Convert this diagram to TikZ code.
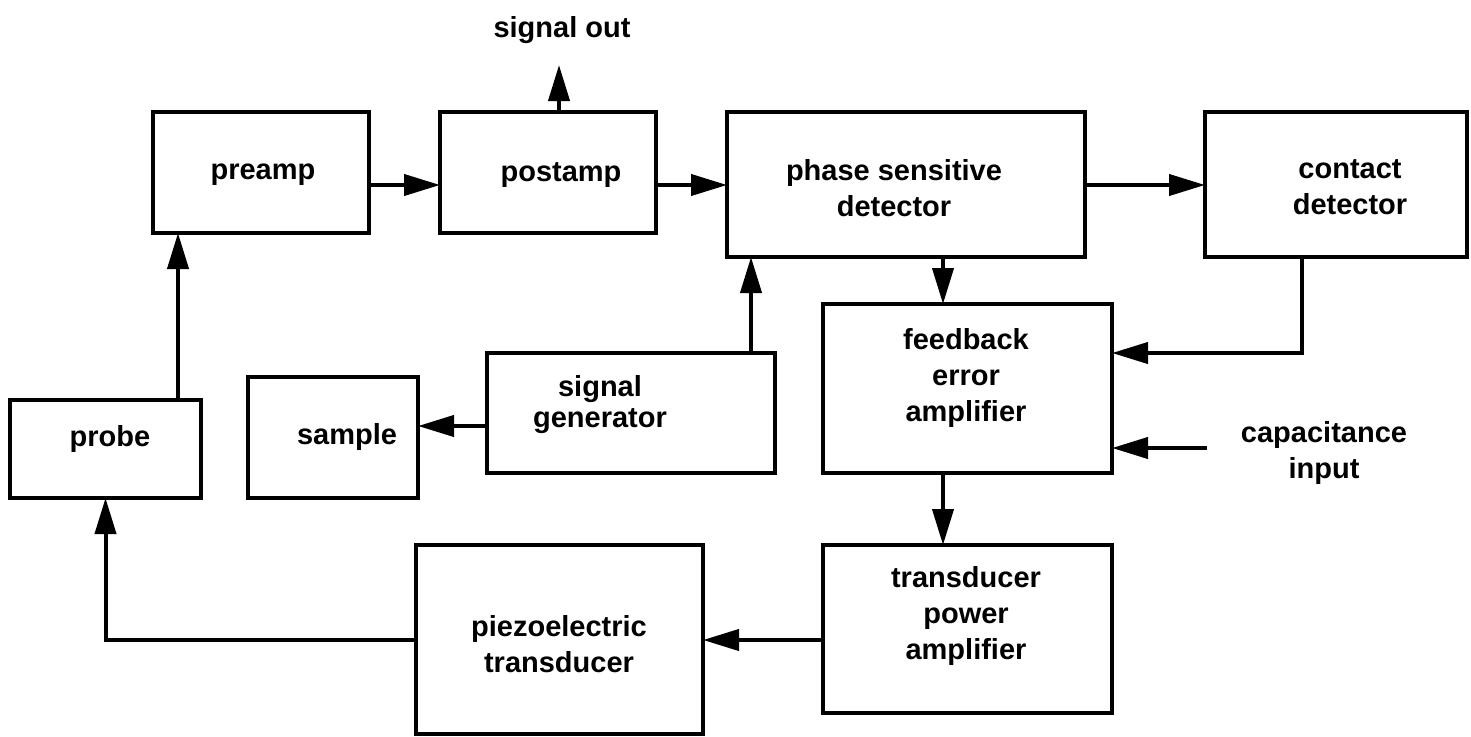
\documentclass[tikz,border=0pt]{standalone}
\usepackage{fontspec}
\setmainfont{Liberation Sans}
\usetikzlibrary{arrows.meta}
\begin{document}
\begin{tikzpicture}[x=1pt,y=-1pt,
  box/.style={draw, line width=4pt, inner sep=0pt, outer sep=0pt, anchor=north west},
  txt/.style={inner sep=0pt, outer sep=0pt, align=center, font=\fontsize{29}{36}\selectfont\bfseries},
  arr/.style={line width=4pt, -{Triangle[length=36pt,width=21pt]}}]
\useasboundingbox (0,0) rectangle (1471,736);

% blocks
\node[box, minimum width=216pt, minimum height=121pt] (preamp)   at (153,112) {};
\node[box, minimum width=216pt, minimum height=121pt] (postamp)  at (440,112) {};
\node[box, minimum width=358pt, minimum height=145pt] (psd)      at (727,112) {};
\node[box, minimum width=262pt, minimum height=145pt] (contact)  at (1205,112) {};
\node[box, minimum width=289pt, minimum height=169pt] (feedback) at (823,304) {};
\node[box, minimum width=288pt, minimum height=120pt] (siggen)   at (487,353) {};
\node[box, minimum width=170pt, minimum height=121pt] (sample)   at (248,377) {};
\node[box, minimum width=191pt, minimum height=98pt]  (probe)    at (10,400) {};
\node[box, minimum width=287pt, minimum height=189pt] (piezo)    at (416,545) {};
\node[box, minimum width=289pt, minimum height=168pt] (tpa)      at (823,545) {};

% block labels
\node[txt] (preamp-t)   at (263,175) {preamp};
\node[txt] (postamp-t)  at (561,175) {postamp};
\node[txt] (psd-t)      at (894,188) {phase sensitive\\detector};
\node[txt] (contact-t)  at (1350,187) {contact\\detector};
\node[txt] (feedback-t) at (966,378) {feedback\\error\\amplifier};
\node[txt, font=\fontsize{29}{31}\selectfont\bfseries] (siggen-t) at (600,405) {signal\\generator};
\node[txt] (sample-t)   at (347,437) {sample};
\node[txt] (probe-t)    at (110,439) {probe};
\node[txt] (piezo-t)    at (559,644) {piezoelectric\\transducer};
\node[txt] (tpa-t)      at (966,616) {transducer\\power\\amplifier};

% free labels
\node[txt] (sigout) at (562,30) {signal out};
\node[txt] (capin)  at (1324,453) {capacitance\\input};

% connector levels
\coordinate (rowA) at (0,185);
\coordinate (rowB) at (0,353);
\coordinate (rowC) at (0,426);
\coordinate (rowD) at (0,640);
\coordinate (colA) at (178,0);
\coordinate (colB) at (751,0);
\coordinate (colC) at (943,0);
\coordinate (colD) at (1302,0);
\coordinate (sotip) at (559,65);
\coordinate (capsrc) at (1207,448);

% signal path
\draw[arr] (probe.north -| colA) -- (preamp.south -| colA);
\draw[arr] (preamp.east |- rowA) -- (postamp.west |- rowA);
\draw[arr] (postamp.north -| sotip) -- (sotip);
\draw[arr] (postamp.east |- rowA) -- (psd.west |- rowA);
\draw[arr] (psd.east |- rowA) -- (contact.west |- rowA);
\draw[arr] (siggen.north -| colB) -- (psd.south -| colB);
\draw[arr] (siggen.west |- rowC) -- (sample.east |- rowC);
\draw[arr] (psd.south -| colC) -- (feedback.north -| colC);
\draw[arr] (contact.south -| colD) |- (feedback.east |- rowB);
\draw[arr] (capsrc) -- (feedback.east |- capsrc);
\draw[arr] (feedback.south -| colC) -- (tpa.north -| colC);
\draw[arr] (tpa.west |- rowD) -- (piezo.east |- rowD);
\draw[arr] (piezo.west |- rowD) -| (probe.south);
\end{tikzpicture}
\end{document}
